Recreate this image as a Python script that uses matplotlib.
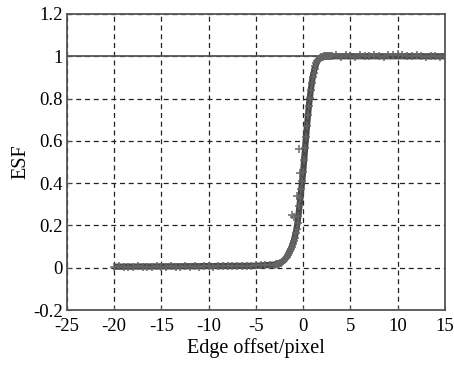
import numpy as np
import matplotlib
matplotlib.use("Agg")
from matplotlib import pyplot as plt

plt.rcParams['font.family'] = ['Liberation Serif', 'DejaVu Serif']
plt.rcParams['axes.unicode_minus'] = False

# measured ESF samples, left plateau
left_x = np.arange(-20, -3.49, 0.5)
left_y = [0.004, 0.006, 0.003, 0.005, 0.004, 0.006, 0.005, 0.003, 0.005, 0.006,
          0.004, 0.005, 0.006, 0.004, 0.005, 0.007, 0.005, 0.006, 0.004, 0.006,
          0.007, 0.005, 0.006, 0.008, 0.006, 0.007, 0.009, 0.008, 0.010, 0.009,
          0.011, 0.012, 0.013, 0.014]

# edge transition
edge_x = np.linspace(-3, 3, 61)
edge_y = [0.015, 0.016, 0.017, 0.018, 0.019, 0.021, 0.022, 0.024, 0.026, 0.030,
          0.035, 0.040, 0.046, 0.053, 0.061, 0.070, 0.080, 0.090, 0.100, 0.112,
          0.125, 0.142, 0.162, 0.185, 0.212, 0.245, 0.290, 0.330, 0.372, 0.410,
          0.455, 0.510, 0.565, 0.620, 0.670, 0.720, 0.765, 0.805, 0.840, 0.872,
          0.900, 0.922, 0.940, 0.955, 0.967, 0.976, 0.983, 0.988, 0.992, 0.995,
          0.997, 0.998, 0.999, 1.000, 1.001, 1.002, 1.000, 1.003, 1.001, 1.002,
          1.000]

# right plateau
right_x = np.arange(3.5, 15.01, 0.5)
right_y = [1.004, 0.998, 1.006, 1.002, 0.997, 1.005, 1.003, 0.999, 1.006, 1.002,
           0.998, 1.004, 1.008, 1.012, 1.006, 1.003, 0.999, 1.005, 1.002, 0.998,
           1.003, 1.001, 0.997, 0.999]

# a few stray samples off the curve
stray_x = [-0.46, -0.64, -1.16, -1.0, -0.3]
stray_y = [0.56, 0.34, 0.25, 0.24, 0.45]

# fitted curve
fit_x = [-20, -5, -3, -2.5, -2, -1.6, -1.2, -1.0, -0.8, -0.6, -0.4, -0.2, 0,
         0.2, 0.4, 0.6, 0.8, 1.0, 1.2, 1.4, 1.6, 2.0, 2.5, 3, 15]
fit_y = [0.005, 0.009, 0.015, 0.021, 0.035, 0.061, 0.100, 0.125, 0.162, 0.212,
         0.290, 0.372, 0.455, 0.565, 0.670, 0.765, 0.840, 0.900, 0.940, 0.967,
         0.983, 0.997, 1.0, 1.0, 1.0]

fig = plt.figure(figsize=(4.54, 3.67), dpi=100)
ax = fig.add_axes([0.1476, 0.1553, 0.8324, 0.8066])

data_x = np.concatenate([left_x, edge_x, right_x, stray_x])
data_y = np.concatenate([left_y, edge_y, right_y, stray_y])
ax.plot(fit_x, fit_y, color='#4a4a4a', lw=4.5, zorder=3, solid_capstyle='butt')
ax.plot(data_x, data_y, ls='none', marker='+', ms=5.5, mew=1.3, color='#666666',
        alpha=0.85, zorder=4)

ax.axhline(1, color='#555555', lw=1.3, zorder=2)

ax.set_xlim(-25, 15)
ax.set_ylim(-0.2, 1.2)
ax.set_xticks(range(-25, 16, 5))
ax.set_yticks([-0.2, 0, 0.2, 0.4, 0.6, 0.8, 1, 1.2])
ax.set_yticklabels(['-0.2', '0', '0.2', '0.4', '0.6', '0.8', '1', '1.2'])
ax.grid(True, ls=(0, (4, 3)), color='#222222', lw=0.9)
ax.tick_params(direction='in', length=3, labelsize=13.5, color='#555555')
ax.tick_params(axis='x', pad=6)
ax.tick_params(axis='y', pad=3)
for s in ax.spines.values():
    s.set_color('#555555')
    s.set_linewidth(1.3)

ax.set_xlabel('Edge offset/pixel', fontsize=14.5, labelpad=2)
ax.set_ylabel('ESF', fontsize=14.5, labelpad=2)

fig.savefig('out.png', dpi=100)
